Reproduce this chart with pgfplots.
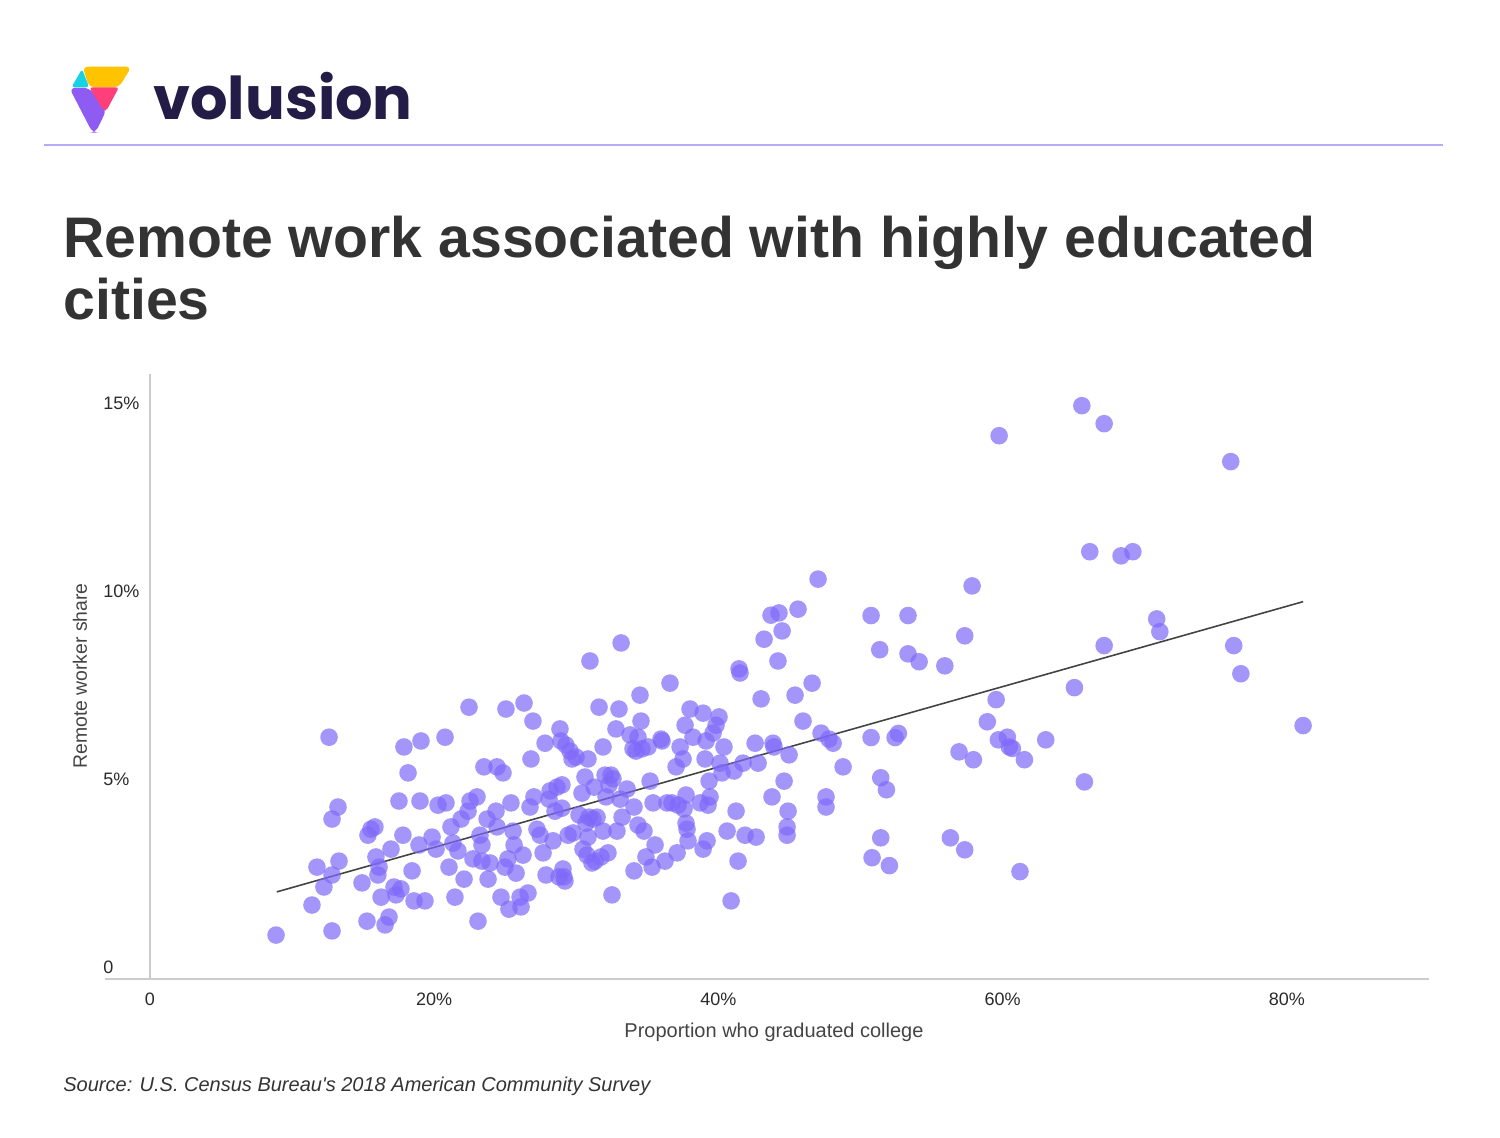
\documentclass[border=0pt]{standalone}
\usepackage{fontspec}
\setmainfont{Liberation Sans}[Ligatures=TeXOff]
\newfontfamily\logofont{Poppins}
\usepackage{pgfplots}
\pgfplotsset{compat=1.18}

\definecolor{dot}{RGB}{126,104,249}
\definecolor{ink}{HTML}{333333}
\definecolor{tickink}{HTML}{2A2A2A}
\definecolor{labelgray}{HTML}{444444}
\definecolor{navy}{HTML}{221C46}
\definecolor{rulec}{HTML}{B7ABF7}
\definecolor{axisgray}{HTML}{CCCCCC}
\definecolor{logoyellow}{HTML}{FFC300}
\definecolor{logocyan}{HTML}{16D2E2}
\definecolor{logopink}{HTML}{FF3F7A}
\definecolor{logopurple}{HTML}{8F5CF3}

\begin{document}
\begin{tikzpicture}
\path[use as bounding box] (0,0) rectangle (750pt,-569pt);

% header, title and notes, in pixel units of the reference (y downwards)
\begin{scope}[x=0.5pt,y=-0.5pt]
  \fill[logocyan, rounded corners=1.5] (82,69) -- (71.5,87.3) -- (89.3,87.3) -- cycle;
  \fill[logoyellow, rounded corners=2.5] (82.5,66.7) -- (131.5,66.7) -- (119,87.3) -- (89.3,87.3) -- cycle;
  \fill[logopurple, rounded corners=3] (69.3,87.8) -- (89.3,87.8) -- (106.5,110) -- (95.5,132.7) -- (92.5,132.7) -- cycle;
  \fill[logopink, rounded corners=1.5] (89.3,87.3) -- (119,87.3) -- (106.5,110.5) -- (103.5,110.5) -- cycle;
  \node[anchor=base west, inner sep=0pt, text=navy, font=\logofont\bfseries\fontsize{29.5}{34}\selectfont] at (153,120) {volusion};
  \draw[rulec, line width=1pt] (44,145) -- (1443,145);

  \node[anchor=base west, inner sep=0pt, text=ink, font=\bfseries\fontsize{28.6}{34}\selectfont] at (63,258) {Remote work associated with highly educated};
  \node[anchor=base west, inner sep=0pt, text=ink, font=\bfseries\fontsize{28.6}{34}\selectfont] at (63,320) {cities};

  \node[rotate=90, inner sep=0pt, text=labelgray, font=\fontsize{9.7}{12}\selectfont] at (80,676) {Remote worker share};
  \node[anchor=base, inner sep=0pt, text=labelgray, font=\fontsize{10}{12}\selectfont] at (774,1037) {Proportion who graduated college};
  \node[anchor=base west, inner sep=0pt, text=ink, font=\itshape\fontsize{10}{12}\selectfont] at (63,1091) {Source: U.S. Census Bureau's 2018 American Community Survey};
\end{scope}

\begin{axis}[
    at={(52.25pt,-489.5pt)}, anchor=south west,
    scale only axis, width=662.25pt, height=302.25pt,
    xmin=-3.2, xmax=90, ymin=0, ymax=16.1,
    axis line style={draw=none},
    major tick length=0pt,
    xtick={0,20,40,60,80},
    xticklabels={0,20\%,40\%,60\%,80\%},
    ytick={0,5,10,15},
    yticklabels={0,5\%,10\%,15\%},
    xtick pos=bottom, ytick pos=left,
    xticklabel style={anchor=north, inner sep=0pt, yshift=-7pt, text=tickink, font=\fontsize{9}{11}\selectfont},
    yticklabel style={anchor=base west, inner sep=0pt, xshift=-0.75pt, yshift=3pt, text=tickink, font=\fontsize{9}{11}\selectfont},
    clip=false,
]
\draw[axisgray, line width=0.6pt] (axis cs:-3.2,0) -- (axis cs:90,0);
\draw[axisgray, line width=0.6pt] (axis cs:0,0) -- (axis cs:0,16.1);

\addplot[only marks, color=dot, mark=*, mark size=4.4pt,
  mark options={draw opacity=0, fill=dot, fill opacity=0.7}] coordinates {
(8.87,1.17) (11.40,1.97) (11.75,2.98) (12.24,2.45) (12.60,6.44) (12.81,1.28)
(12.81,4.26) (12.81,2.77) (13.23,4.58) (13.30,3.14) (14.92,2.56) (15.27,1.54)
(15.34,3.83) (15.55,3.99) (15.83,4.05) (15.90,3.25) (16.04,2.77) (16.12,2.98)
(16.26,2.18) (16.54,1.44) (16.82,1.65) (16.96,3.46) (17.17,2.45) (17.31,2.24)
(17.52,4.74) (17.66,2.40) (17.80,3.83) (17.87,6.18) (18.16,5.49) (18.44,2.88)
(18.58,2.08) (18.93,3.57) (19.00,4.74) (19.07,6.34) (19.35,2.08) (19.85,3.78)
(20.13,3.46) (20.27,4.63) (20.76,6.44) (20.83,4.69) (21.04,2.98) (21.18,4.05)
(21.32,3.62) (21.46,2.18) (21.67,3.41) (21.89,4.26) (22.10,2.66) (22.38,4.47)
(22.45,7.24) (22.52,4.74) (22.73,3.20) (23.01,4.85) (23.08,1.54) (23.22,3.83)
(23.36,3.14) (23.50,5.65) (23.72,4.26) (23.79,2.66) (23.93,3.09) (24.35,4.47)
(24.42,5.65) (24.70,2.18) (24.84,5.49) (24.98,2.98) (25.05,7.19) (25.19,3.20)
(25.26,1.86) (25.40,4.69) (25.55,3.94) (25.62,3.57) (25.76,2.82) (26.04,2.18)
(26.11,1.92) (26.25,3.30) (26.32,7.35) (26.60,2.29) (26.74,4.58) (26.81,5.86)
(26.95,6.87) (27.02,4.85) (27.23,3.99) (27.45,3.83) (27.66,3.36) (27.80,6.28)
(27.87,2.77) (28.08,4.79) (28.15,5.01) (28.36,3.68) (28.50,4.47) (28.64,5.11)
(28.78,2.72) (28.85,6.66) (28.92,6.34) (28.99,5.17) (29.06,2.93) (29.13,2.72)
(29.20,2.61) (29.27,6.23) (29.42,3.83) (29.56,6.07) (29.70,5.86) (29.77,3.89)
(29.98,5.91) (30.19,4.37) (30.40,4.95) (30.47,3.46) (30.61,5.38) (30.68,4.15)
(30.75,3.30) (30.89,4.31) (30.96,8.47) (31.10,3.09) (31.17,4.26) (31.25,5.11)
(31.32,3.14) (31.46,4.31) (31.60,7.24) (31.74,3.25) (31.88,6.18) (31.88,3.94)
(32.02,5.43) (32.09,4.85) (32.23,3.36) (32.30,5.17) (32.44,5.43) (32.51,2.24)
(32.58,5.33) (32.79,6.66) (32.86,3.94) (33.00,7.19) (33.08,4.79) (33.15,8.95)
(33.22,4.31) (33.57,5.06) (33.78,6.50) (33.99,6.13) (34.06,2.88) (34.06,4.58)
(34.20,6.07) (34.34,4.10) (34.48,7.56) (34.55,6.87) (34.62,6.13) (34.76,3.94)
(34.90,3.25) (35.05,6.18) (35.19,5.27) (35.33,2.98) (35.40,4.69) (35.54,3.57)
(35.96,6.39) (36.03,6.34) (36.24,3.14) (36.38,4.69) (36.59,7.88) (36.73,4.69)
(37.02,5.65) (37.09,3.36) (37.16,4.63) (37.30,6.18) (37.51,5.86) (37.58,4.53)
(37.65,6.76) (37.72,4.90) (37.72,4.15) (37.79,3.99) (37.86,3.68) (38.00,7.19)
(38.21,6.44) (38.71,4.69) (38.92,7.08) (38.92,3.46) (39.06,5.86) (39.13,6.34)
(39.20,3.68) (39.27,4.63) (39.34,5.27) (39.41,4.85) (39.62,6.55) (39.83,6.76)
(40.04,6.98) (40.25,5.49) (40.39,6.18) (40.61,3.94) (40.89,2.08) (41.10,5.54)
(41.24,4.47) (41.38,3.14) (41.45,8.26) (41.52,8.15) (41.73,5.75) (41.87,3.83)
(42.58,6.28) (42.65,3.78) (42.79,5.75) (43.00,7.46) (43.21,9.05) (43.70,9.69)
(43.77,4.85) (43.84,6.28) (43.91,6.18) (44.19,8.47) (44.26,9.75) (44.48,9.27)
(44.62,5.27) (44.90,4.47) (44.83,4.05) (44.83,3.83) (44.97,5.97) (45.39,7.56)
(45.60,9.85) (45.95,6.87) (46.59,7.88) (47.01,10.65) (47.22,6.55) (47.57,4.85)
(47.57,4.58) (47.78,6.39) (48.07,6.28) (48.77,5.65)
(34.34,6.44) (30.82,5.86) (28.99,4.55) (30.82,3.78) (40.11,5.75) (24.42,4.05)
(23.36,3.57)
(65.57,15.27) (67.14,14.79) (59.75,14.47) (76.05,13.78) (66.13,11.38) (68.33,11.27)
(69.16,11.38) (57.85,10.47) (50.74,9.68) (53.34,9.68) (57.33,9.14) (51.35,8.77)
(53.34,8.66) (54.12,8.45) (55.93,8.34) (70.84,9.59) (71.06,9.25) (67.14,8.88)
(76.26,8.88) (76.76,8.13) (65.05,7.76) (59.54,7.44) (58.92,6.85) (81.14,6.75)
(50.74,6.43) (52.43,6.43) (52.66,6.54) (59.70,6.37) (60.33,6.44) (60.47,6.18)
(60.68,6.14) (61.53,5.84) (63.03,6.37) (56.93,6.05) (57.94,5.84) (51.42,5.36)
(51.82,5.04) (65.75,5.25) (51.42,3.76) (50.81,3.23) (52.03,3.02) (56.32,3.76)
(57.33,3.44) (61.22,2.86)
};

% linear trend
\addplot[no marks, color=labelgray, line width=0.8pt] coordinates {(8.92,2.32) (81.14,10.05)};
\end{axis}
\end{tikzpicture}
\end{document}
